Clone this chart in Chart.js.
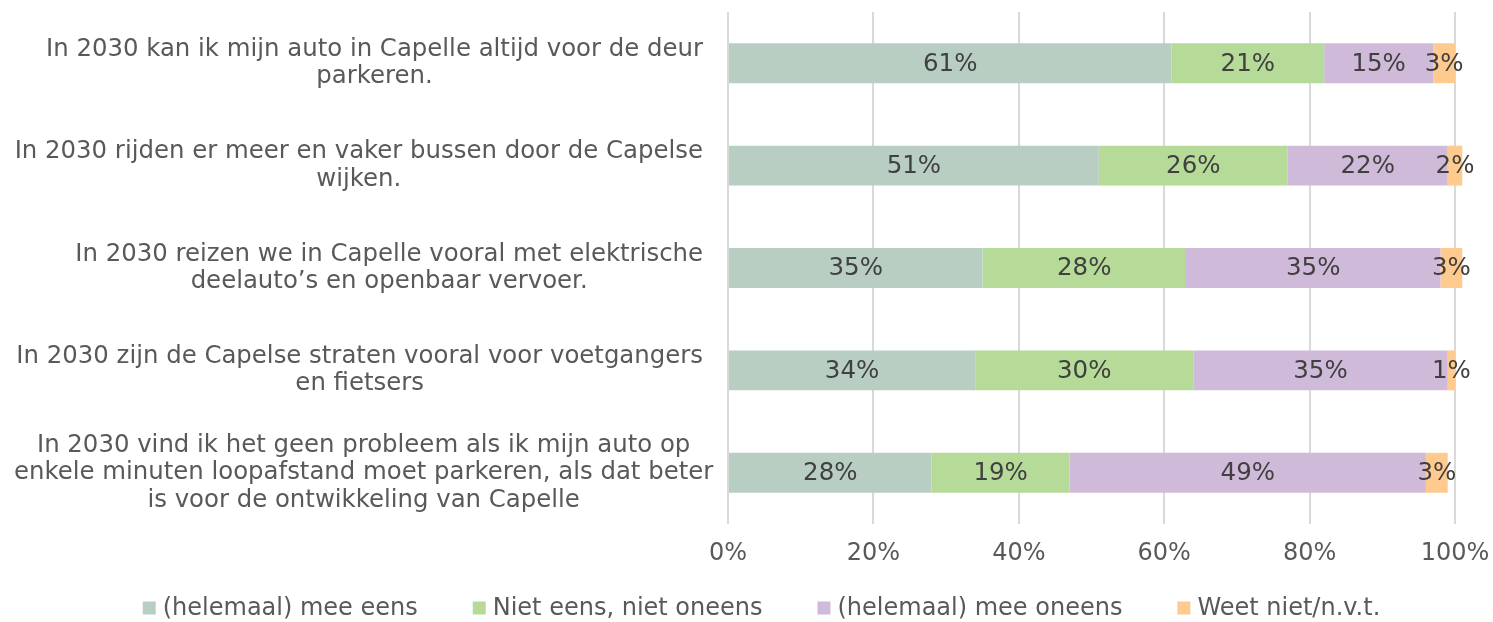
<!doctype html>
<html lang="nl">
  <head>
    <meta charset="utf-8">
    <title>Capelle 2030 - mobiliteit</title>
    <style>
      * { margin: 0; padding: 0; }
      body { background: #fff; }
      .chartBox { width: 1493px; height: 622px; }
    </style>
  </head>
  <body>
    <div class="chartBox">
      <canvas id="myChart"></canvas>
    </div>
    <script src="https://cdn.jsdelivr.net/npm/chart.js/dist/chart.umd.min.js"></script>
    <script>
    // categories (one array of lines per statement)
    const statements = [
      ['In 2030 kan ik mijn auto in Capelle altijd voor de deur', 'parkeren.'],
      ['In 2030 rijden er meer en vaker bussen door de Capelse', 'wijken.'],
      ['In 2030 reizen we in Capelle vooral met elektrische', 'deelauto\u2019s en openbaar vervoer.'],
      ['In 2030 zijn de Capelse straten vooral voor voetgangers', 'en fietsers'],
      ['In 2030 vind ik het geen probleem als ik mijn auto op', 'enkele minuten loopafstand moet parkeren, als dat beter', 'is voor de ontwikkeling van Capelle']
    ];
    const seriesNames = ['(helemaal) mee eens', 'Niet eens, niet oneens', '(helemaal) mee oneens', 'Weet niet/n.v.t.'];
    const eens = [61, 51, 35, 34, 28];
    const neutraal = [21, 26, 28, 30, 19];
    const oneens = [15, 22, 35, 35, 49];
    const weetNiet = [3, 2, 3, 1, 3];
    const xTicks = [0, 20, 40, 60, 80, 100];

    const colors = ['#B9CEC3', '#B6DB98', '#D0BADA', '#FFCA8E'];
    const FONT = '"DejaVu Sans", Verdana, sans-serif';

    // percent labels in the middle of each segment
    const segmentLabels = {
      id: 'segmentLabels',
      afterDatasetsDraw(chart) {
        const ctx = chart.ctx;
        ctx.save();
        ctx.font = '24.5px ' + FONT;
        ctx.fillStyle = '#404040';
        ctx.textAlign = 'center';
        ctx.textBaseline = 'middle';
        chart.data.datasets.forEach((ds, di) => {
          chart.getDatasetMeta(di).data.forEach((bar, i) => {
            const p = bar.getCenterPoint();
            ctx.fillText(ds.data[i] + '%', p.x, p.y + 1);
          });
        });
        ctx.restore();
      }
    };

    // category labels: block right aligned, lines centred within the block
    const categoryLabels = {
      id: 'categoryLabels',
      afterDraw(chart) {
        const ctx = chart.ctx;
        const yScale = chart.scales.y;
        const right = chart.chartArea.left - 25;
        const lh = 27.5;
        ctx.save();
        ctx.font = '24.4px ' + FONT;
        ctx.fillStyle = '#595959';
        ctx.textAlign = 'center';
        ctx.textBaseline = 'middle';
        chart.data.labels.forEach((lines, i) => {
          const w = Math.max(...lines.map(l => ctx.measureText(l).width));
          const cx = Math.max(right - w / 2, 14 + w / 2);
          const y0 = yScale.getPixelForValue(i) - (lines.length - 1) * lh / 2;
          lines.forEach((l, k) => ctx.fillText(l, cx, y0 + k * lh));
        });
        ctx.restore();
      }
    };

    // legend along the bottom
    const bottomLegend = {
      id: 'bottomLegend',
      afterDraw(chart) {
        const ctx = chart.ctx;
        const box = 13, gap = 7, spacing = 55;
        ctx.save();
        ctx.font = '24px ' + FONT;
        ctx.textBaseline = 'middle';
        ctx.textAlign = 'left';
        const items = chart.data.datasets.map(ds => ({
          text: ds.label, color: ds.backgroundColor, w: ctx.measureText(ds.label).width
        }));
        const total = items.reduce((s, it) => s + box + gap + it.w, 0) + spacing * (items.length - 1);
        let x = (chart.width - total) / 2 + 15;
        const y = 608;
        items.forEach(it => {
          ctx.fillStyle = it.color;
          ctx.fillRect(x, y - box / 2, box, box);
          ctx.fillStyle = '#595959';
          ctx.fillText(it.text, x + box + gap, y + 1);
          x += box + gap + it.w + spacing;
        });
        ctx.restore();
      }
    };

    const data = {
      labels: statements,
      datasets: [eens, neutraal, oneens, weetNiet].map((vals, i) => ({
        label: seriesNames[i],
        data: vals,
        backgroundColor: colors[i],
        borderWidth: 0,
        barPercentage: 0.39,
        categoryPercentage: 1,
        clip: false
      }))
    };

    const config = {
      type: 'bar',
      data,
      options: {
        indexAxis: 'y',
        responsive: true,
        maintainAspectRatio: false,
        animation: false,
        layout: { padding: { top: 12, right: 38, bottom: 58, left: 0 } },
        plugins: {
          legend: { display: false },
          tooltip: { enabled: false }
        },
        scales: {
          x: {
            stacked: true,
            min: 0,
            max: 100,
            afterBuildTicks(scale) {
              scale.ticks = xTicks.map(v => ({ value: v }));
            },
            afterFit(scale) {
              scale.height = 40;
              scale.paddingLeft = 0;
              scale.paddingRight = 0;
            },
            grid: { color: '#D9D9D9', lineWidth: 2, drawTicks: false },
            border: { display: false },
            ticks: {
              padding: 15,
              color: '#595959',
              font: { family: FONT, size: 24 },
              callback: v => v + '%'
            }
          },
          y: {
            stacked: true,
            grid: { display: false },
            border: { display: false },
            ticks: { display: false },
            afterFit(scale) { scale.width = 728; }
          }
        }
      },
      plugins: [segmentLabels, categoryLabels, bottomLegend]
    };

    const myChart = new Chart(document.getElementById('myChart'), config);
    </script>
  </body>
</html>
